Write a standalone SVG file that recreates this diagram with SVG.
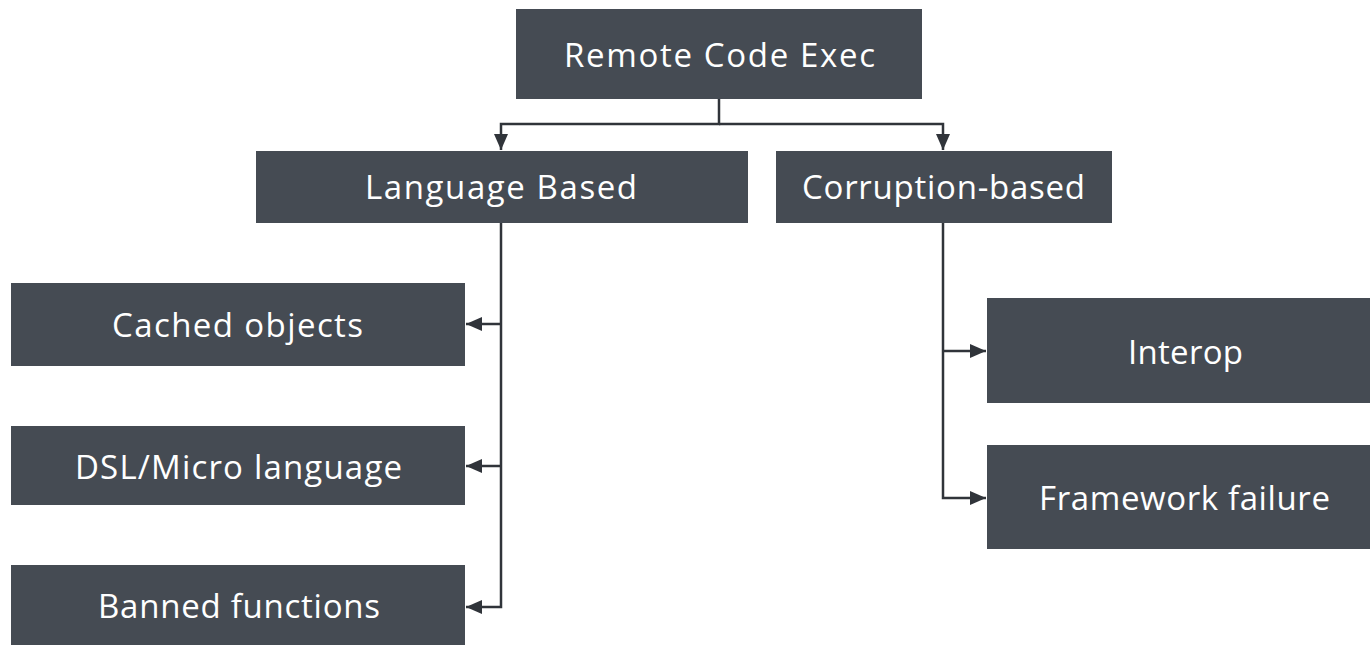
<svg xmlns="http://www.w3.org/2000/svg" width="1370" height="646" viewBox="0 0 1370 646">
<style>
.box{fill:#454b53}
.lbl{fill:#ffffff;font-family:"Open Sans","Liberation Sans",sans-serif;font-size:33px;font-weight:400;text-anchor:middle}
.ln{fill:none;stroke:#30343a;stroke-width:2.5}
</style>
<defs>
<marker id="a" viewBox="0 0 16 14" refX="16" refY="7" markerWidth="16" markerHeight="14" markerUnits="userSpaceOnUse" orient="auto">
<path d="M0,0 L16,7 L0,14 z" fill="#30343a"/>
</marker>
</defs>
<g id="connectors">
<path class="ln" d="M719,99 V124 H501 V150" marker-end="url(#a)"/>
<path class="ln" d="M719,124 H943 V150" marker-end="url(#a)"/>
<path class="ln" d="M501,223 V607 H466" marker-end="url(#a)"/>
<path class="ln" d="M501,324 H466" marker-end="url(#a)"/>
<path class="ln" d="M501,466 H466" marker-end="url(#a)"/>
<path class="ln" d="M943,223 V498 H986" marker-end="url(#a)"/>
<path class="ln" d="M943,351 H986" marker-end="url(#a)"/>
</g>
<g id="n-rce"><rect class="box" x="516" y="9" width="406" height="90"/><text class="lbl" x="719.5" y="67" textLength="311" lengthAdjust="spacing">Remote Code Exec</text></g>
<g id="n-lang"><rect class="box" x="256" y="151" width="492" height="72"/><text class="lbl" x="501" y="199" textLength="272" lengthAdjust="spacing">Language Based</text></g>
<g id="n-corr"><rect class="box" x="776" y="151" width="336" height="72"/><text class="lbl" x="943.5" y="199" textLength="283" lengthAdjust="spacing">Corruption-based</text></g>
<g id="n-cached"><rect class="box" x="11" y="283" width="454" height="83"/><text class="lbl" x="237.5" y="337" textLength="251" lengthAdjust="spacing">Cached objects</text></g>
<g id="n-dsl"><rect class="box" x="11" y="426" width="454" height="79"/><text class="lbl" x="238.5" y="479" textLength="327" lengthAdjust="spacing">DSL/Micro language</text></g>
<g id="n-banned"><rect class="box" x="11" y="565" width="454" height="80"/><text class="lbl" x="239" y="618" textLength="282" lengthAdjust="spacing">Banned functions</text></g>
<g id="n-interop"><rect class="box" x="987" y="298" width="383" height="105"/><text class="lbl" x="1185.5" y="364" textLength="115" lengthAdjust="spacing">Interop</text></g>
<g id="n-framework"><rect class="box" x="987" y="445" width="383" height="104"/><text class="lbl" x="1184.5" y="510" textLength="291" lengthAdjust="spacing">Framework failure</text></g>
</svg>
